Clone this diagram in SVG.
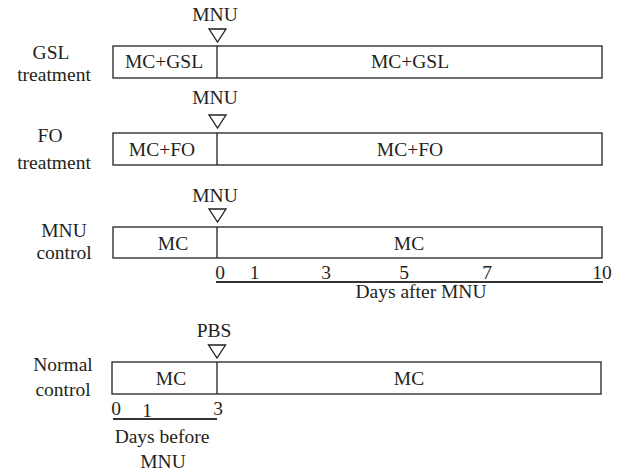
<svg xmlns="http://www.w3.org/2000/svg" width="620" height="473" viewBox="0 0 620 473">
<style>
text{font-family:"Liberation Serif","Times New Roman",serif;font-size:19.5px;fill:#231f20;text-anchor:middle}
.box{fill:#fff;stroke:#231f20;stroke-width:1.3}
.div{stroke:#231f20;stroke-width:1.3}
.tri{fill:#fff;stroke:#231f20;stroke-width:1.3;stroke-linejoin:miter}
.axis{stroke:#333;stroke-width:1.8}
</style>
<defs>
<polygon id="tri" class="tri" points="-8.5,0 8.5,0 0,13"/>
</defs>
<rect width="620" height="473" fill="#fff"/>

<g id="gsl">
<text x="51" y="59">GSL</text>
<text x="54" y="81">treatment</text>
<text x="215" y="21">MNU</text>
<use href="#tri" x="217.5" y="29"/>
<rect class="box" x="113" y="46" width="489" height="32"/>
<line class="div" x1="217" y1="46" x2="217" y2="78"/>
<text x="164" y="68">MC+GSL</text>
<text x="410" y="68">MC+GSL</text>
</g>

<g id="fo">
<text x="50" y="142">FO</text>
<text x="54" y="169">treatment</text>
<text x="215" y="104">MNU</text>
<use href="#tri" x="217.5" y="115"/>
<rect class="box" x="113" y="133" width="489" height="32"/>
<line class="div" x1="217" y1="133" x2="217" y2="165"/>
<text x="162" y="156">MC+FO</text>
<text x="410" y="156">MC+FO</text>
</g>

<g id="mnu-control">
<text x="64" y="237">MNU</text>
<text x="64" y="259">control</text>
<text x="215" y="202">MNU</text>
<use href="#tri" x="217.5" y="209"/>
<rect class="box" x="113" y="227" width="489" height="31"/>
<line class="div" x1="217" y1="227" x2="217" y2="258"/>
<text x="173" y="250">MC</text>
<text x="409" y="250">MC</text>
</g>

<g id="normal-control">
<text x="63" y="371">Normal</text>
<text x="63" y="396">control</text>
<text x="214" y="337">PBS</text>
<use href="#tri" x="217" y="345"/>
<rect class="box" x="112" y="362" width="489" height="32"/>
<line class="div" x1="217" y1="362" x2="217" y2="394"/>
<text x="171" y="385">MC</text>
<text x="409" y="385">MC</text>
</g>

<g id="axes">
<line class="axis" x1="216" y1="282" x2="603" y2="282"/>
<text x="220" y="278.5">0</text>
<text x="254.5" y="278.5">1</text>
<text x="326" y="278.5">3</text>
<text x="404" y="278.5">5</text>
<text x="487" y="278.5">7</text>
<text x="602" y="278.5">10</text>
<text x="421" y="298">Days after MNU</text>

<line class="axis" x1="113" y1="419" x2="217" y2="419"/>
<text x="116" y="415">0</text>
<text x="147" y="417">1</text>
<text x="218" y="415">3</text>
<text x="162" y="443">Days before</text>
<text x="163" y="468">MNU</text>
</g>
</svg>
